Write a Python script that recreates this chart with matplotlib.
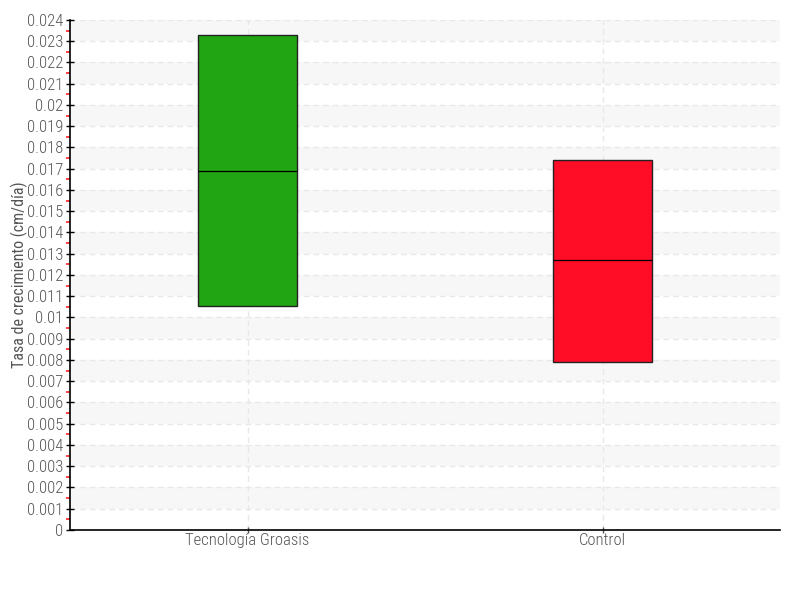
import matplotlib.pyplot as plt
from matplotlib.ticker import MultipleLocator
import numpy as np

categories = ["Tecnología Groasis", "Control"]
q1 = [0.01054, 0.0079]
medians = [0.0169, 0.0127]
q3 = [0.0233, 0.0174]
colors = ["#22a512", "#ff0c27"]

plt.rcParams['font.family'] = ['Roboto Condensed', 'Roboto', 'DejaVu Sans']
plt.rcParams['font.weight'] = 'light'
text_color = "#555555"

fig = plt.figure(figsize=(8, 6), dpi=100)
ax = fig.add_axes([0.0875, 0.1167, 0.8875, 0.85])

# alternating bands
for k in range(0, 24, 2):
    ax.axhspan((k + 1) / 1000, (k + 2) / 1000, color="#f7f7f7", zorder=0, lw=0)

stats = []
for i, name in enumerate(categories):
    stats.append({"label": name, "q1": q1[i], "med": medians[i], "q3": q3[i],
                  "whislo": q1[i], "whishi": q3[i], "fliers": []})

bp = ax.bxp(stats, positions=range(len(categories)), widths=0.28, patch_artist=True,
            showcaps=False, showfliers=False,
            medianprops=dict(color="black", lw=0.9),
            whiskerprops=dict(lw=0),
            boxprops=dict(lw=1.0))
for patch, c in zip(bp["boxes"], colors):
    patch.set_facecolor(c)
    patch.set_edgecolor("#222222")
    patch.set_zorder(3)
for m in bp["medians"]:
    m.set_zorder(4)

ax.set_xlim(-0.5, 1.5)
ax.set_ylim(0, 0.024)
ax.yaxis.set_minor_locator(MultipleLocator(0.0005))
ytick_vals = np.arange(0, 0.0245, 0.001)
ax.set_yticks(ytick_vals)
ax.set_yticklabels(["0"] + [("%.3f" % v).rstrip("0") for v in ytick_vals[1:]])

ax.grid(True, which="major", color="#e8e8e8", ls=(0, (4, 3)), lw=1, zorder=1)
ax.set_axisbelow(True)

for s in ["top", "right"]:
    ax.spines[s].set_visible(False)
ax.spines["left"].set_linewidth(1.2)
ax.spines["bottom"].set_linewidth(1.2)

ax.tick_params(axis="y", which="major", direction="inout", length=6, width=1,
               colors="black", labelcolor=text_color, labelsize=12, pad=2)
ax.tick_params(axis="y", which="minor", direction="out", length=3, width=1.2, color="#ff2020")
ax.tick_params(axis="x", which="major", direction="inout", length=4, width=1,
               colors="#555555", labelcolor=text_color, labelsize=12, pad=0)

ax.set_ylabel("Tasa de crecimiento (cm/día)", color=text_color, fontsize=11.5)
ax.yaxis.set_label_coords(-0.059, 0.5)

fig.savefig("out.png", dpi=100)
